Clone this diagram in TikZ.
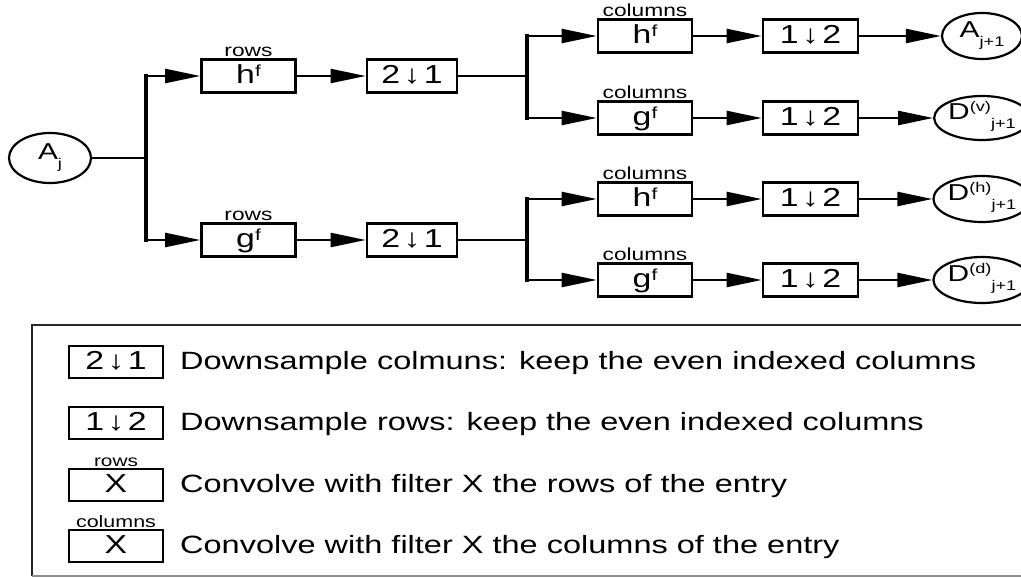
\documentclass[tikz,border=0pt]{standalone}
\usepackage{fontspec}
\setmainfont{Liberation Sans}[FakeStretch=1.3]
\usetikzlibrary{arrows.meta,shapes.geometric}
\newcommand\lowsub[1]{\raisebox{-9pt}{\fontsize{14}{14}\selectfont #1}}
\newcommand\upsup[1]{\smash{\raisebox{8pt}{\fontsize{14}{14}\selectfont #1}}}
\newcommand\fsup{\smash{\raisebox{7pt}{\fontsize{16}{16}\selectfont f}}}
\newcommand\dn{\hspace{3.5pt}↓\hspace{3.5pt}}
\begin{document}
\begin{tikzpicture}[x=1pt,y=-1pt,
  box/.style={draw,line width=2.6pt,minimum height=33pt,inner sep=0pt,text height=18pt,text depth=3pt,font=\fontsize{26}{26}\selectfont},
  lbox/.style={box,line width=2pt,minimum width=94pt,minimum height=32pt},
  ell/.style={draw,ellipse,line width=2.2pt,inner sep=0pt,font=\fontsize{23}{23}\selectfont},
  lbl/.style={font=\fontsize{17.5}{17.5}\selectfont,inner sep=1pt,anchor=south},
  wire/.style={line width=2.3pt},
  bar/.style={line width=3.3pt,line cap=rect},
  arr/.style={wire,-{Triangle[length=35pt,width=14pt]}},
  legtxt/.style={font=\fontsize{25}{25}\selectfont,anchor=west,inner sep=0pt}]
\useasboundingbox (0,0) rectangle (1021,578);

% input
\node[ell,minimum width=82pt,minimum height=50pt] (Aj) at (50,158) {A\lowsub{j}};

% row filters
\node[box,minimum width=94pt] (hfr) at (248.5,76) {h\fsup};
\node[box,minimum width=90pt] (dra) at (412,76) {2\dn 1};
\node[box,minimum width=94pt] (gfr) at (248.5,240) {g\fsup};
\node[box,minimum width=90pt] (drb) at (412,240) {2\dn 1};
\node[lbl] (lhr) at (hfr.north) {rows};
\node[lbl] (lgr) at (gfr.north) {rows};

% column filters
\node[box,minimum width=94pt] (hc1) at (645,36) {h\fsup};
\node[box,minimum width=94pt] (gc1) at (645,118) {g\fsup};
\node[box,minimum width=94pt] (hc2) at (645,199) {h\fsup};
\node[box,minimum width=94pt] (gc2) at (645,280) {g\fsup};
\node[lbl] (lc1) at (hc1.north) {columns};
\node[lbl] (lc2) at (gc1.north) {columns};
\node[lbl] (lc3) at (hc2.north) {columns};
\node[lbl] (lc4) at (gc2.north) {columns};

\node[box,minimum width=95pt] (dc1) at (810.5,36) {1\dn 2};
\node[box,minimum width=95pt] (dc2) at (810.5,118) {1\dn 2};
\node[box,minimum width=95pt] (dc3) at (810.5,199) {1\dn 2};
\node[box,minimum width=95pt] (dc4) at (810.5,280) {1\dn 2};

% outputs
\node[ell,minimum width=80pt,minimum height=46pt] (Ea) at (982,36) {A\lowsub{j+1}};
\node[ell,minimum width=80pt,minimum height=44pt] (Ev) at (982,118) {D\upsup{(v)}\lowsub{j+1}};
\node[ell,minimum width=80pt,minimum height=46pt] (Eh) at (982,199) {D\upsup{(h)}\lowsub{j+1}};
\node[ell,minimum width=80pt,minimum height=46pt] (Ed) at (982,280) {D\upsup{(d)}\lowsub{j+1}};

% junctions
\coordinate (j1) at (146,158);
\coordinate (t1) at (146,76);
\coordinate (u1) at (146,240);
\coordinate (j2) at (527,76);
\coordinate (t2) at (527,36);
\coordinate (u2) at (527,118);
\coordinate (j3) at (527,240);
\coordinate (t3) at (527,199);
\coordinate (u3) at (527,280);

\draw[wire] (Aj.east) -- (j1);
\draw[bar] (t1) -- (u1);
\draw[arr] (t1) -- (hfr.west);
\draw[arr] (u1) -- (gfr.west);
\draw[arr] (hfr.east) -- (dra.west);
\draw[arr] (gfr.east) -- (drb.west);

\draw[wire] (dra.east) -- (j2);
\draw[bar] (t2) -- (u2);
\draw[arr] (t2) -- (hc1.west);
\draw[arr] (u2) -- (gc1.west);

\draw[wire] (drb.east) -- (j3);
\draw[bar] (t3) -- (u3);
\draw[arr] (t3) -- (hc2.west);
\draw[arr] (u3) -- (gc2.west);

\draw[arr] (hc1.east) -- (dc1.west);
\draw[arr] (gc1.east) -- (dc2.west);
\draw[arr] (hc2.east) -- (dc3.west);
\draw[arr] (gc2.east) -- (dc4.west);
\draw[arr] (dc1.east) -- (Ea.west);
\draw[arr] (dc2.east) -- (Ev.west);
\draw[arr] (dc3.east) -- (Eh.west);
\draw[arr] (dc4.east) -- (Ed.west);

% legend frame
\draw[line width=2pt,black!85] (1030,325) -- (32,325) -- (32,576);
\draw[line width=1.5pt,black!45] (32,576) -- (1030,576);

% legend entries
\node[lbox] (k1) at (116,362) {2\dn 1};
\node[legtxt] (x1) at (180,363) {Downsample colmuns: keep the even indexed columns};
\node[lbox] (k2) at (116,423) {1\dn 2};
\node[legtxt] (x2) at (180,424) {Downsample rows: keep the even indexed columns};
\node[lbox] (k3) at (116,485) {X};
\node[lbl,font=\fontsize{16}{16}\selectfont] (kl3) at (k3.north) {rows};
\node[legtxt] (x3) at (180,486) {Convolve with filter X the rows of the entry};
\node[lbox] (k4) at (116,546) {X};
\node[lbl,font=\fontsize{16.5}{16.5}\selectfont] (kl4) at (k4.north) {columns};
\node[legtxt] (x4) at (180,547) {Convolve with filter X the columns of the entry};
\end{tikzpicture}
\end{document}
